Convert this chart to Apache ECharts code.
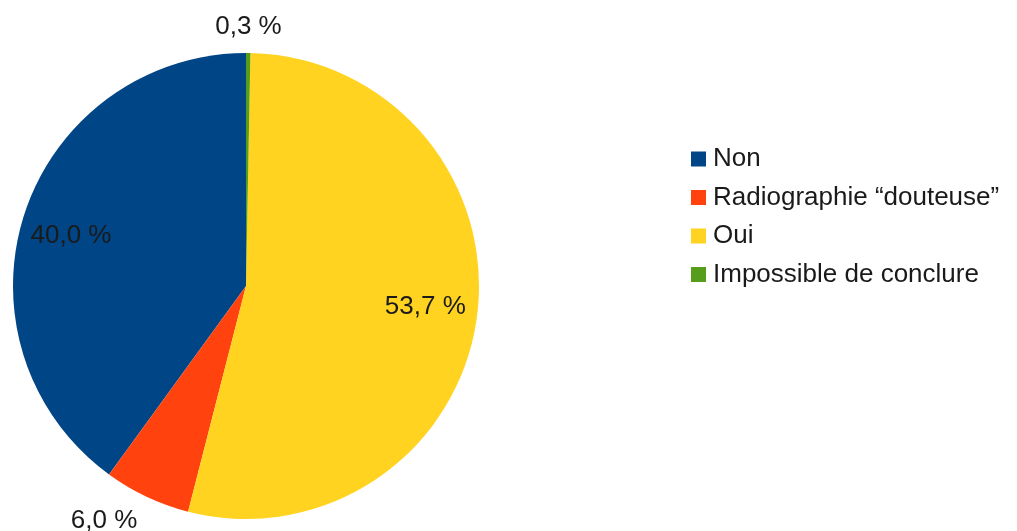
<!DOCTYPE html>
<html><head><meta charset="utf-8">
<script src="https://cdn.jsdelivr.net/npm/echarts@6/dist/echarts.min.js"></script>
<style>html,body{margin:0;padding:0;background:#fff}#c{width:1017px;height:531px}</style>
</head><body><div id="c"></div>
<script>
const categories = ['Non', 'Radiographie “douteuse”', 'Oui', 'Impossible de conclure'];
const values = [40.0, 6.0, 53.7, 0.3];
const labels = ['40,0 %', '6,0 %', '53,7 %', '0,3 %'];
const colors = ['#004586', '#ff420e', '#ffd320', '#579d1c'];

const font = 'Liberation Sans';
const fs = 26;
const txt = '#1a1a1a';
const chart = echarts.init(document.getElementById('c'));
const center = [246, 286];
const R = 233;

// label placement per slice: 'inner' ring, 'outer' ring, or pie 'outside'
const placement = ['inner', 'outside', 'inner', 'outer'];
const innerOffsets = { 0: [0, 7], 2: [-3, -4] };

const mainData = categories.map((n, i) => ({
  name: n, value: values[i],
  itemStyle: { color: colors[i] },
  label: placement[i] === 'outside' ? {
    show: true, position: 'outside', formatter: labels[i], distanceToLabelLine: -2,
    fontFamily: font, fontSize: fs, color: txt
  } : { show: false },
  labelLine: { show: false, length: 27, length2: 0 }
}));
function ringData(kind) {
  return categories.map((n, i) => ({
    name: n, value: values[i],
    itemStyle: { color: 'rgba(0,0,0,0)' },
    label: placement[i] === kind ? {
      show: true, position: 'inside', formatter: labels[i],
      offset: innerOffsets[i] || [0, 0],
      fontFamily: font, fontSize: fs, color: txt
    } : { show: false }
  }));
}

chart.setOption({
  animation: false,
  legend: {
    orient: 'vertical', left: 686, top: 141,
    itemWidth: 15, itemHeight: 15, itemGap: 12.5, icon: 'rect',
    textStyle: { fontFamily: font, fontSize: fs, lineHeight: 26, color: txt, padding: [0, 0, 0, 2] },
    data: categories
  },
  series: [{
    type: 'pie', center: center, radius: [0, R], startAngle: 90, clockwise: false,
    avoidLabelOverlap: false, silent: true,
    data: mainData
  }, {
    type: 'pie', center: center, radius: [129, R], startAngle: 90, clockwise: false,
    avoidLabelOverlap: false, silent: true, legendHoverLink: false,
    data: ringData('inner')
  }, {
    type: 'pie', center: center, radius: [243, 269], startAngle: 90, clockwise: false,
    avoidLabelOverlap: false, silent: true, legendHoverLink: false,
    data: ringData('outer')
  }]
});
</script></body></html>
